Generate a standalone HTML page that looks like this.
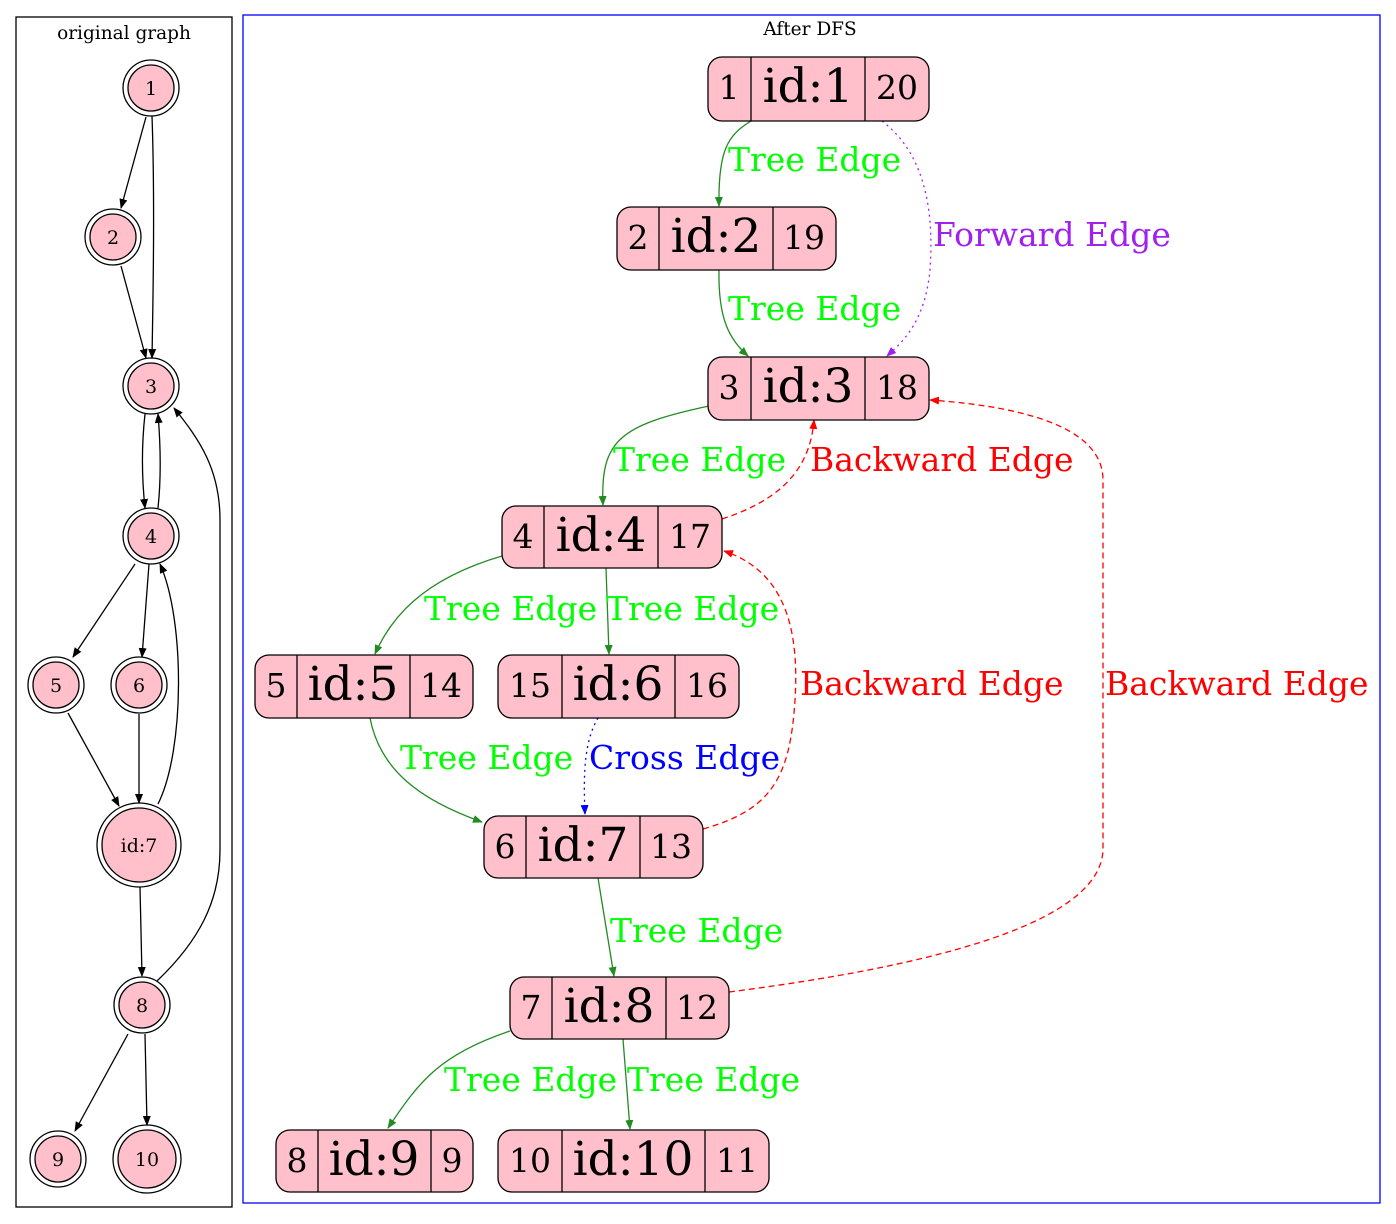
<!DOCTYPE html>
<html><head><meta charset="utf-8"><style>body{margin:0;background:#fff}svg{display:block}</style></head><body>
<svg width="1396" height="1224" viewBox="0 0 1396 1224" xmlns="http://www.w3.org/2000/svg" font-family="DejaVu Serif, serif">
<defs>
<marker id="ab" markerWidth="10" markerHeight="10" refX="9" refY="5" orient="auto" markerUnits="userSpaceOnUse"><path d="M0,1 L10,5 L0,9 z" fill="#000"/></marker>
<marker id="ag" markerWidth="10" markerHeight="10" refX="9" refY="5" orient="auto" markerUnits="userSpaceOnUse"><path d="M0,1 L10,5 L0,9 z" fill="#228b22"/></marker>
<marker id="ar" markerWidth="10" markerHeight="10" refX="9" refY="5" orient="auto" markerUnits="userSpaceOnUse"><path d="M0,1 L10,5 L0,9 z" fill="#f00"/></marker>
<marker id="ap" markerWidth="10" markerHeight="10" refX="9" refY="5" orient="auto" markerUnits="userSpaceOnUse"><path d="M0,1 L10,5 L0,9 z" fill="#a020f0"/></marker>
<marker id="au" markerWidth="10" markerHeight="10" refX="9" refY="5" orient="auto" markerUnits="userSpaceOnUse"><path d="M0,1 L10,5 L0,9 z" fill="#00f"/></marker>
</defs>
<rect x="16" y="17" width="216" height="1190" fill="none" stroke="#000" stroke-width="1.3"/>
<text x="124" y="39" font-size="18.5" text-anchor="middle">original graph</text>
<rect x="243" y="15" width="1137" height="1188" fill="none" stroke="#00f" stroke-width="1.3"/>
<text x="810" y="35" font-size="18.5" text-anchor="middle">After DFS</text>

<g fill="none" stroke="#000" stroke-width="1.3" marker-end="url(#ab)">
<path d="M146,117 L121,208"/>
<path d="M152,116 C155,200 153,300 152,358"/>
<path d="M121,266 L146,358"/>
<path d="M145,414 C141,450 142,480 145,508"/>
<path d="M158,508 C161,480 161,450 158,414"/>
<path d="M135,564 L73,657"/>
<path d="M149,564 L142,657"/>
<path d="M139,714 L139,803"/>
<path d="M68,713 L119,806"/>
<path d="M158,804 C185,750 185,620 160,564"/>
<path d="M157,981 C200,940 220,900 220,850 L220,520 C220,470 200,440 174,408"/>
<path d="M140,887 L142,976"/>
<path d="M128,1034 L75,1131"/>
<path d="M145,1034 L147,1125"/>
</g>
<g fill="pink" stroke="#000" stroke-width="1.3">
<circle cx="151" cy="88" r="28" fill="none"/><circle cx="151" cy="88" r="23"/>
<circle cx="113" cy="237" r="28" fill="none"/><circle cx="113" cy="237" r="23"/>
<circle cx="151" cy="386" r="28" fill="none"/><circle cx="151" cy="386" r="23"/>
<circle cx="151" cy="536" r="28" fill="none"/><circle cx="151" cy="536" r="23"/>
<circle cx="56" cy="685" r="28" fill="none"/><circle cx="56" cy="685" r="23"/>
<circle cx="139" cy="685" r="28" fill="none"/><circle cx="139" cy="685" r="23"/>
<circle cx="139" cy="845" r="42" fill="none"/><circle cx="139" cy="845" r="37"/>
<circle cx="142" cy="1005" r="28" fill="none"/><circle cx="142" cy="1005" r="23"/>
<circle cx="58" cy="1159" r="28" fill="none"/><circle cx="58" cy="1159" r="23"/>
<circle cx="147" cy="1159" r="34" fill="none"/><circle cx="147" cy="1159" r="29"/>
</g>
<g font-size="19" text-anchor="middle">
<text x="151" y="95">1</text><text x="113" y="244">2</text><text x="151" y="393">3</text><text x="151" y="543">4</text>
<text x="56" y="692">5</text><text x="139" y="692">6</text><text x="139" y="852">id:7</text><text x="142" y="1012">8</text>
<text x="58" y="1166">9</text><text x="147" y="1166">10</text>
</g>

<g fill="none" stroke-width="1.3">
<path d="M751,121 C728,135 718,150 719,206" stroke="#228b22" marker-end="url(#ag)"/>
<path d="M882,121 C920,150 935,200 930,270 C925,320 905,340 887,356" stroke="#a020f0" stroke-dasharray="2,4" marker-end="url(#ap)"/>
<path d="M719,270 C718,320 730,340 748,356" stroke="#228b22" marker-end="url(#ag)"/>
<path d="M709,406 C620,425 600,440 603,505" stroke="#228b22" marker-end="url(#ag)"/>
<path d="M722,519 C780,500 810,470 814,420" stroke="#f00" stroke-dasharray="6,4" marker-end="url(#ar)"/>
<path d="M502,556 C420,580 390,620 375,654" stroke="#228b22" marker-end="url(#ag)"/>
<path d="M606,568 L609,654" stroke="#228b22" marker-end="url(#ag)"/>
<path d="M703,829 C770,810 790,780 795,700 C800,620 780,570 724,551" stroke="#f00" stroke-dasharray="6,4" marker-end="url(#ar)"/>
<path d="M729,992 C900,970 1100,930 1103,850 L1103,480 C1103,420 1000,405 930,400" stroke="#f00" stroke-dasharray="6,4" marker-end="url(#ar)"/>
<path d="M370,718 C380,770 420,800 482,822" stroke="#228b22" marker-end="url(#ag)"/>
<path d="M598,718 C585,740 583,770 585,814" stroke="#00f" stroke-dasharray="2,4" marker-end="url(#au)"/>
<path d="M598,878 L614,976" stroke="#228b22" marker-end="url(#ag)"/>
<path d="M510,1031 C440,1055 420,1080 388,1128" stroke="#228b22" marker-end="url(#ag)"/>
<path d="M623,1039 L630,1129" stroke="#228b22" marker-end="url(#ag)"/>
</g>
<g font-size="33">
<text x="728" y="171" fill="#0f0">Tree Edge</text>
<text x="933" y="246" fill="#a020f0">Forward Edge</text>
<text x="728" y="320" fill="#0f0">Tree Edge</text>
<text x="613" y="471" fill="#0f0">Tree Edge</text>
<text x="810" y="471" fill="#f00">Backward Edge</text>
<text x="424" y="620" fill="#0f0">Tree Edge</text>
<text x="606" y="620" fill="#0f0">Tree Edge</text>
<text x="800" y="695" fill="#f00">Backward Edge</text>
<text x="1105" y="695" fill="#f00">Backward Edge</text>
<text x="400" y="769" fill="#0f0">Tree Edge</text>
<text x="589" y="769" fill="#00f">Cross Edge</text>
<text x="610" y="942" fill="#0f0">Tree Edge</text>
<text x="444" y="1091" fill="#0f0">Tree Edge</text>
<text x="627" y="1091" fill="#0f0">Tree Edge</text>
</g>

<g stroke="#000" stroke-width="1.3">
<rect x="708" y="57" width="221" height="64" rx="14" fill="pink"/><path d="M751,57V121M865,57V121"/>
<rect x="617" y="207" width="219" height="63" rx="14" fill="pink"/><path d="M659,207V270M773,207V270"/>
<rect x="708" y="357" width="221" height="63" rx="14" fill="pink"/><path d="M751,357V420M865,357V420"/>
<rect x="502" y="506" width="220" height="62" rx="14" fill="pink"/><path d="M544,506V568M658,506V568"/>
<rect x="255" y="655" width="218" height="63" rx="14" fill="pink"/><path d="M297,655V718M410,655V718"/>
<rect x="498" y="655" width="241" height="63" rx="14" fill="pink"/><path d="M562,655V718M675,655V718"/>
<rect x="484" y="816" width="219" height="62" rx="14" fill="pink"/><path d="M526,816V878M640,816V878"/>
<rect x="510" y="977" width="219" height="62" rx="14" fill="pink"/><path d="M552,977V1039M666,977V1039"/>
<rect x="276" y="1130" width="197" height="62" rx="14" fill="pink"/><path d="M318,1130V1192M431,1130V1192"/>
<rect x="498" y="1130" width="271" height="62" rx="14" fill="pink"/><path d="M562,1130V1192M705,1130V1192"/>
</g>
<g text-anchor="middle">
<g font-size="33">
<text x="729" y="99">1</text><text x="897" y="99">20</text>
<text x="638" y="249">2</text><text x="804" y="249">19</text>
<text x="729" y="399">3</text><text x="897" y="399">18</text>
<text x="523" y="548">4</text><text x="690" y="548">17</text>
<text x="276" y="697">5</text><text x="441" y="697">14</text>
<text x="530" y="697">15</text><text x="707" y="697">16</text>
<text x="505" y="858">6</text><text x="671" y="858">13</text>
<text x="531" y="1019">7</text><text x="697" y="1019">12</text>
<text x="297" y="1172">8</text><text x="452" y="1172">9</text>
<text x="530" y="1172">10</text><text x="737" y="1172">11</text>
</g>
<g font-size="47">
<text x="808" y="102">id:1</text>
<text x="716" y="252">id:2</text>
<text x="808" y="402">id:3</text>
<text x="601" y="551">id:4</text>
<text x="353" y="700">id:5</text>
<text x="618" y="700">id:6</text>
<text x="583" y="861">id:7</text>
<text x="609" y="1022">id:8</text>
<text x="374" y="1175">id:9</text>
<text x="633" y="1175">id:10</text>
</g>
</g>
</svg>
</body></html>
